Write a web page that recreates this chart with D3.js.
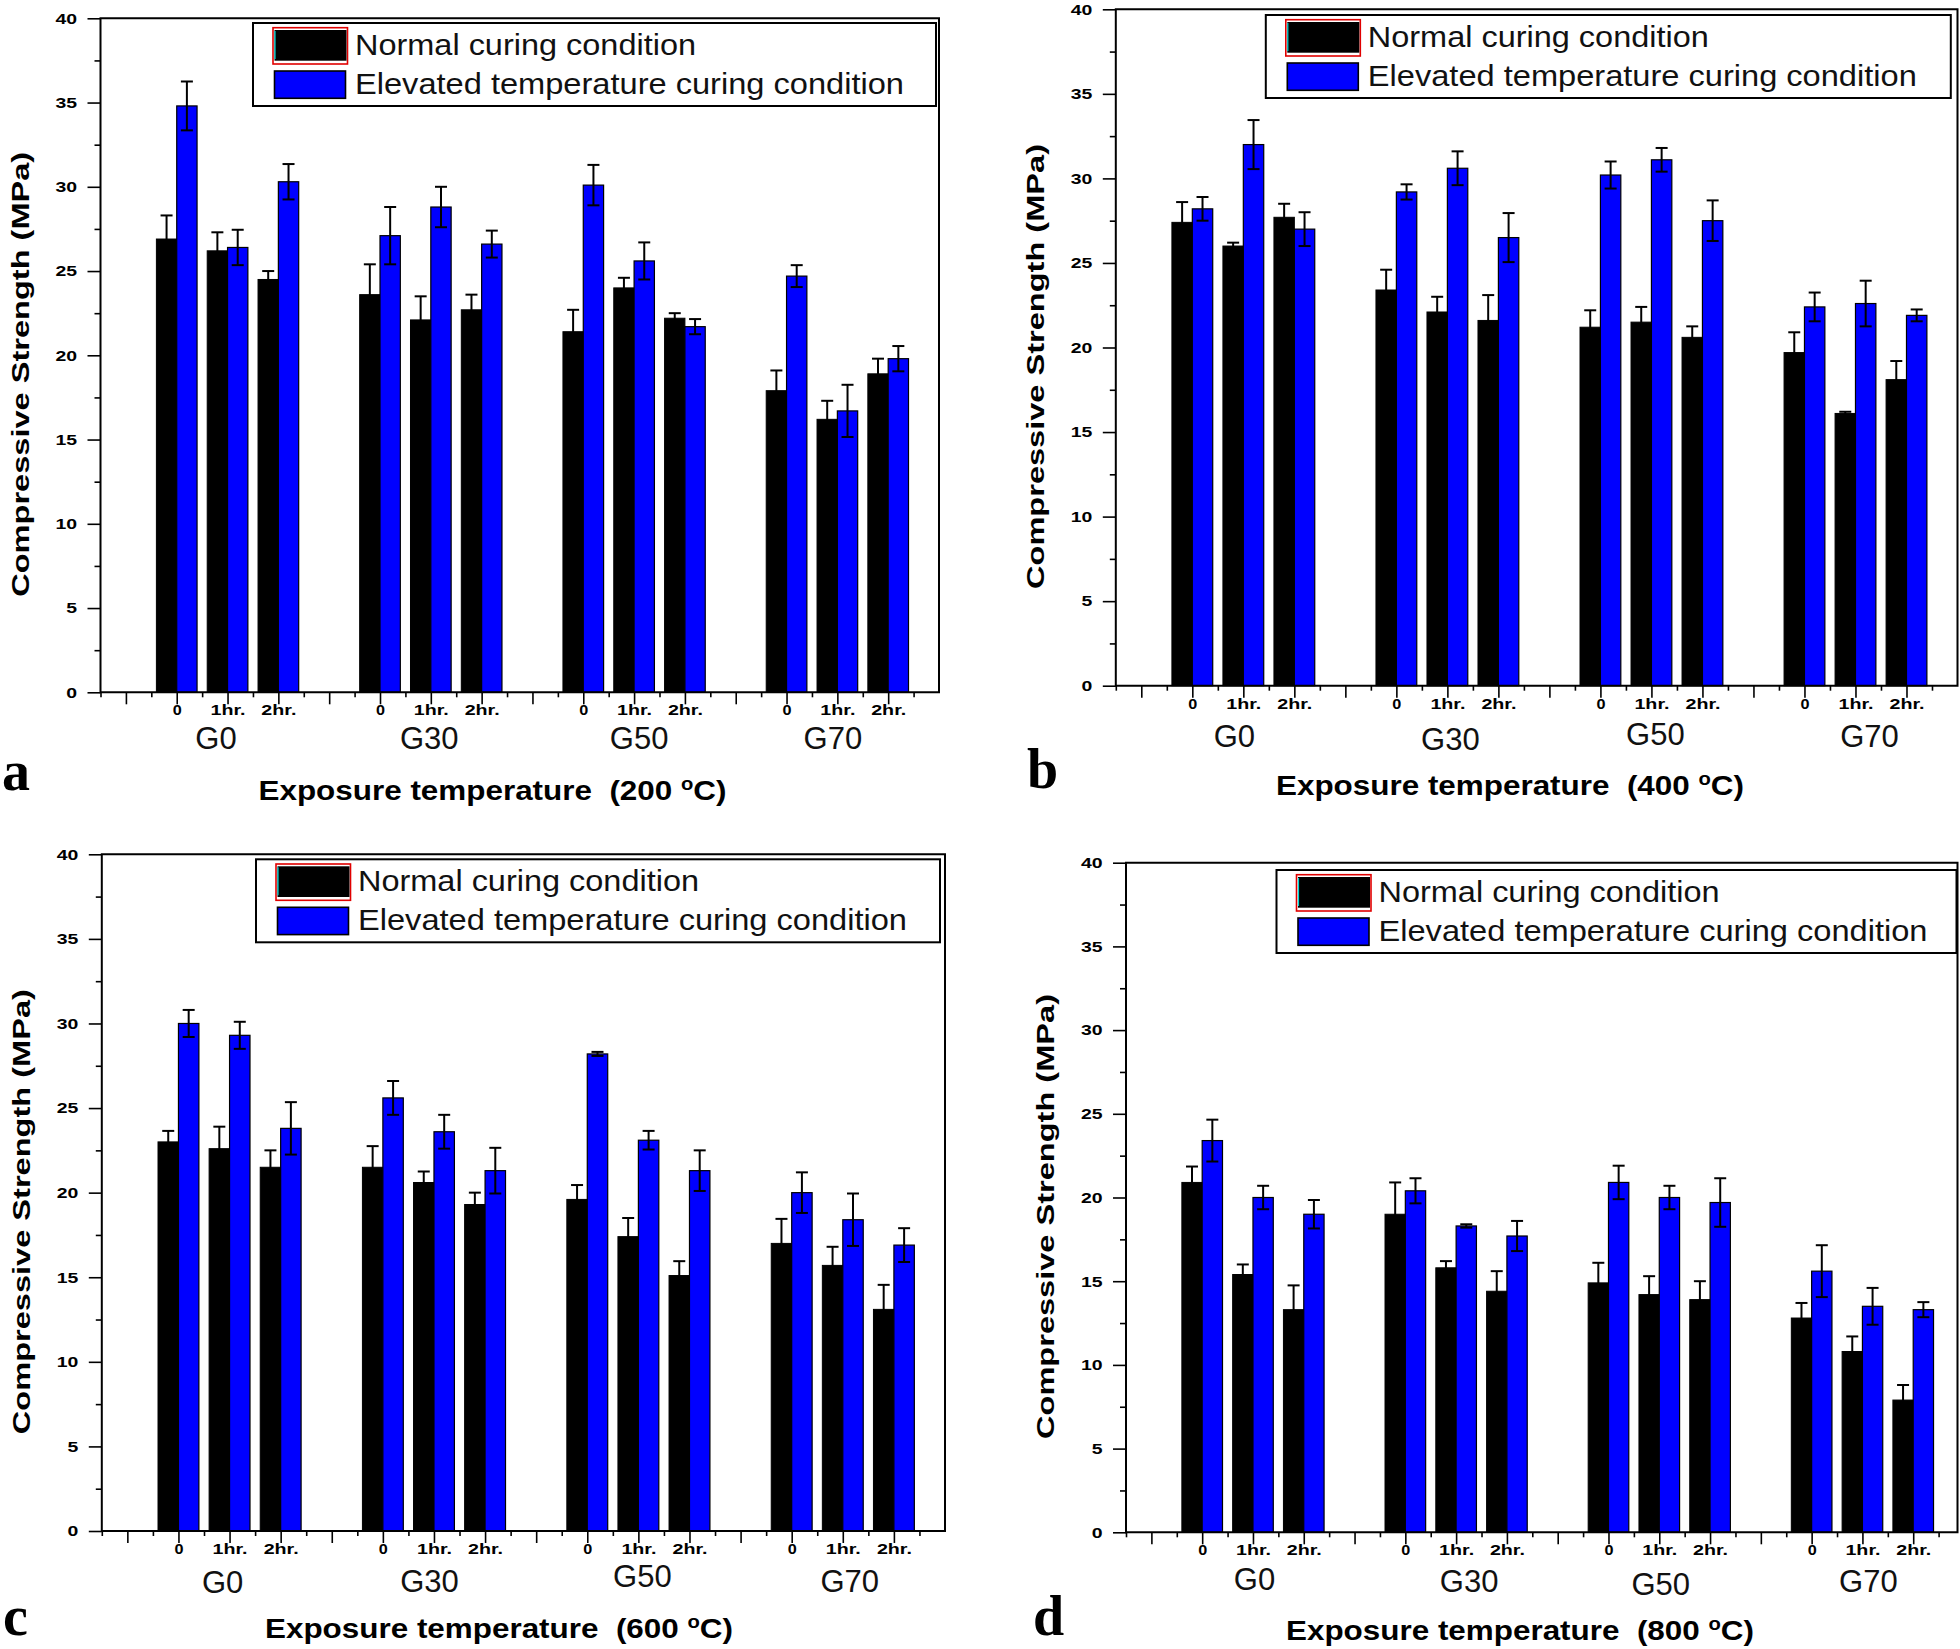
<!DOCTYPE html>
<html><head><meta charset="utf-8">
<script src="https://cdn.jsdelivr.net/npm/d3@7"></script>
<style>
body{margin:0;background:#fff}
svg{display:block}
</style>
</head><body>
<svg id="chart" width="1960" height="1649" font-family="Liberation Sans, Arial, sans-serif"></svg>
<script>
// ---------------- DATA ----------------
const groups = ["G0", "G30", "G50", "G70"];
const durations = ["0", "1hr.", "2hr."];
const seriesNames = ["Normal curing condition", "Elevated temperature curing condition"];
const temperatures = ["200", "400", "600", "800"];
const panelLetters = ["a", "b", "c", "d"];
const yTicks = [0, 5, 10, 15, 20, 25, 30, 35, 40];
const yMinorTicks = [2.5, 7.5, 12.5, 17.5, 22.5, 27.5, 32.5, 37.5];

// order: G0(0,1hr,2hr), G30(...), G50(...), G70(...)
const normal200      = [26.9, 26.2, 24.5, 23.6, 22.1, 22.7, 21.4, 24.0, 22.2, 17.9, 16.2, 18.9];
const normal200Err   = [1.4, 1.1, 0.5, 1.8, 1.4, 0.9, 1.3, 0.6, 0.3, 1.2, 1.1, 0.9];
const elevated200    = [34.8, 26.4, 30.3, 27.1, 28.8, 26.6, 30.1, 25.6, 21.7, 24.7, 16.7, 19.8];
const elevated200Err = [1.45, 1.05, 1.05, 1.7, 1.2, 0.8, 1.2, 1.1, 0.45, 0.65, 1.55, 0.75];

const normal400      = [27.4, 26.0, 27.7, 23.4, 22.1, 21.6, 21.2, 21.5, 20.6, 19.7, 16.1, 18.1];
const normal400Err   = [1.2, 0.2, 0.8, 1.2, 0.9, 1.5, 1.0, 0.9, 0.65, 1.2, 0.1, 1.1];
const elevated400    = [28.2, 32.0, 27.0, 29.2, 30.6, 26.5, 30.2, 31.1, 27.5, 22.4, 22.6, 21.9];
const elevated400Err = [0.7, 1.45, 1.0, 0.45, 1.0, 1.45, 0.8, 0.7, 1.2, 0.85, 1.35, 0.35];

const normal600      = [23.0, 22.6, 21.5, 21.5, 20.6, 19.3, 19.6, 17.4, 15.1, 17.0, 15.7, 13.1];
const normal600Err   = [0.65, 1.3, 1.0, 1.25, 0.65, 0.7, 0.85, 1.1, 0.85, 1.45, 1.1, 1.45];
const elevated600    = [30.0, 29.3, 23.8, 25.6, 23.6, 21.3, 28.2, 23.1, 21.3, 20.0, 18.4, 16.9];
const elevated600Err = [0.8, 0.8, 1.55, 1.0, 1.0, 1.35, 0.12, 0.55, 1.2, 1.2, 1.55, 1.0];

const normal800      = [20.9, 15.4, 13.3, 19.0, 15.8, 14.4, 14.9, 14.2, 13.9, 12.8, 10.8, 7.9];
const normal800Err   = [0.95, 0.6, 1.45, 1.9, 0.4, 1.2, 1.2, 1.1, 1.1, 0.9, 0.9, 0.9];
const elevated800    = [23.4, 20.0, 19.0, 20.4, 18.3, 17.7, 20.9, 20.0, 19.7, 15.6, 13.5, 13.3];
const elevated800Err = [1.25, 0.7, 0.85, 0.75, 0.1, 0.9, 1.0, 0.7, 1.45, 1.55, 1.1, 0.45];

const panelData = [
  {normal: normal200, normalErr: normal200Err, elevated: elevated200, elevatedErr: elevated200Err},
  {normal: normal400, normalErr: normal400Err, elevated: elevated400, elevatedErr: elevated400Err},
  {normal: normal600, normalErr: normal600Err, elevated: elevated600, elevatedErr: elevated600Err},
  {normal: normal800, normalErr: normal800Err, elevated: elevated800, elevatedErr: elevated800Err}
];

// ---------------- LAYOUT ----------------
const layouts = [
  {left:100.5, right:939, frameRight:939, top:18.3, bottom:692.3, legend:[253,23], legendW:683,
   groupDx:[-11.5,-1.5,5,-4.5], groupBase:[749,749,749,749], xTitle:[492.5,800], letter:[2,790]},
  {left:1115.8, right:1957.5, frameRight:1957.5, top:9.3, bottom:685.7, legend:[1265.8,15], legendW:685,
   groupDx:[-9,3,4,14], groupBase:[747,750,745,747], xTitle:[1510,795], letter:[1027,788]},
  {left:101.8, right:945, frameRight:945, top:854.3, bottom:1531, legend:[256,859.3], legendW:684,
   groupDx:[-7,-4.5,4,7], groupBase:[1593,1592,1587,1592], xTitle:[499,1638], letter:[3,1635]},
  {left:1126, right:1964, frameRight:1957.5, top:862.7, bottom:1532.3, legend:[1276.5,870], legendW:680,
   groupDx:[1.5,13,1.5,6], groupBase:[1590,1592,1595,1592], xTitle:[1520,1640], letter:[1033,1635]}
];

const BLUE = "#0000ff";
const SANS = "Liberation Sans, Arial, sans-serif";
const svg = d3.select("#chart");

panelData.forEach((pd, pi) => {
  const L = layouts[pi];
  const g = svg.append("g");
  // positions: slot index p = 2 + 4*group + duration; axis spans p 0.5..17
  const x = d3.scaleLinear().domain([0.5, 17]).range([L.left, L.right]);
  const y = d3.scaleLinear().domain([0, 40]).range([L.bottom, L.top]);
  const slot = x(2) - x(1);
  const bw = slot * 0.4;

  const rows = [];
  groups.forEach((gr, gi) => durations.forEach((du, di) => {
    const k = gi * 3 + di;
    rows.push({p: 2 + 4 * gi + di, label: du, gi,
      n: pd.normal[k], ne: pd.normalErr[k], e: pd.elevated[k], ee: pd.elevatedErr[k]});
  }));

  // bars
  g.selectAll(".bn").data(rows).join("rect")
    .attr("x", d => x(d.p) - bw).attr("width", bw)
    .attr("y", d => y(d.n)).attr("height", d => y(0) - y(d.n))
    .attr("fill", "#000").attr("stroke", "#000").attr("stroke-width", 1);
  g.selectAll(".be").data(rows).join("rect")
    .attr("x", d => x(d.p)).attr("width", bw)
    .attr("y", d => y(d.e)).attr("height", d => y(0) - y(d.e))
    .attr("fill", BLUE).attr("stroke", "#000").attr("stroke-width", 1.2);

  // error bars
  const cap = 6;
  const err = [];
  rows.forEach(d => {
    err.push({cx: x(d.p) - bw / 2, v: d.n, e: d.ne});
    err.push({cx: x(d.p) + bw / 2, v: d.e, e: d.ee});
  });
  const eg = g.append("g").attr("stroke", "#000").attr("stroke-width", 2);
  eg.selectAll(".ev").data(err).join("line")
    .attr("x1", d => d.cx).attr("x2", d => d.cx)
    .attr("y1", d => y(d.v - d.e)).attr("y2", d => y(d.v + d.e));
  eg.selectAll(".et").data(err).join("line")
    .attr("x1", d => d.cx - cap).attr("x2", d => d.cx + cap)
    .attr("y1", d => y(d.v + d.e)).attr("y2", d => y(d.v + d.e));
  eg.selectAll(".eb").data(err).join("line")
    .attr("x1", d => d.cx - cap).attr("x2", d => d.cx + cap)
    .attr("y1", d => y(d.v - d.e)).attr("y2", d => y(d.v - d.e));

  // y axis
  const ya = g.append("g").attr("transform", `translate(${L.left},0)`)
    .call(d3.axisLeft(y).tickValues(yTicks).tickSize(13).tickPadding(10.5).tickFormat(d3.format("d")));
  ya.attr("font-family", SANS);
  ya.select(".domain").remove();
  ya.selectAll("line").attr("stroke-width", 1.6);
  ya.selectAll("text").attr("font-size", 15).attr("font-weight", "bold").attr("fill", "#000")
    .attr("textLength", d => String(d).length * 10.8).attr("lengthAdjust", "spacingAndGlyphs");
  const ym = g.append("g").attr("transform", `translate(${L.left},0)`)
    .call(d3.axisLeft(y).tickValues(yMinorTicks).tickSize(6).tickFormat(""));
  ym.select(".domain").remove();
  ym.selectAll("line").attr("stroke-width", 1.6);

  // x axis
  const majorP = d3.range(1, 17);
  const minorP = d3.range(0.5, 17, 1);
  const labelAt = new Map(rows.map(d => [d.p, d.label]));
  const xa = g.append("g").attr("transform", `translate(0,${L.bottom})`)
    .call(d3.axisBottom(x).tickValues(majorP).tickSize(12).tickFormat(p => labelAt.get(p) || ""));
  xa.attr("font-family", SANS);
  xa.select(".domain").remove();
  xa.selectAll("line").attr("stroke-width", 1.6);
  xa.selectAll("text").attr("y", 23).attr("dy", null)
    .attr("font-size", 15).attr("font-weight", "bold").attr("fill", "#000")
    .filter(function(){ return this.textContent !== ""; })
    .attr("textLength", function(){ return this.textContent === "0" ? 9 : 35; })
    .attr("lengthAdjust", "spacingAndGlyphs");
  const xm = g.append("g").attr("transform", `translate(0,${L.bottom})`)
    .call(d3.axisBottom(x).tickValues(minorP).tickSize(5).tickFormat(""));
  xm.select(".domain").remove();
  xm.selectAll("line").attr("stroke-width", 1.6);

  // frame
  g.append("path")
    .attr("d", `M${L.left},${L.bottom}V${L.top}H${L.frameRight}V${L.bottom}Z`)
    .attr("fill", "none").attr("stroke", "#000").attr("stroke-width", 2);

  // group labels
  g.selectAll(".gl").data(groups).join("text")
    .attr("x", (d, i) => x(3 + 4 * i) + L.groupDx[i])
    .attr("y", (d, i) => L.groupBase[i])
    .attr("text-anchor", "middle").attr("font-size", 31).attr("fill", "#111")
    .text(d => d);

  // axis titles
  g.append("text")
    .attr("transform", `translate(${L.left - 72},${(L.top + L.bottom) / 2 + 19}) rotate(-90)`)
    .attr("text-anchor", "middle").attr("font-size", 23).attr("font-weight", "bold")
    .attr("textLength", 445).attr("lengthAdjust", "spacingAndGlyphs")
    .text("Compressive Strength (MPa)");
  const xt = g.append("text")
    .attr("x", L.xTitle[0]).attr("y", L.xTitle[1])
    .attr("text-anchor", "middle").attr("font-size", 28).attr("font-weight", "bold")
    .attr("textLength", 468).attr("lengthAdjust", "spacingAndGlyphs")
    .style("white-space", "pre");
  xt.append("tspan").text(`Exposure temperature  (${temperatures[pi]} `);
  xt.append("tspan").attr("font-size", 18).attr("dy", -10).text("o");
  xt.append("tspan").attr("dy", 10).text("C)");

  // panel letter
  g.append("text").attr("x", L.letter[0]).attr("y", L.letter[1])
    .attr("font-family", "Liberation Serif, Times New Roman, serif")
    .attr("font-weight", "bold").attr("font-size", 56).text(panelLetters[pi]);

  // legend
  const lg = g.append("g").attr("transform", `translate(${L.legend[0]},${L.legend[1]})`);
  lg.append("rect").attr("width", L.legendW).attr("height", 83)
    .attr("fill", "#fff").attr("stroke", "#000").attr("stroke-width", 2);
  lg.append("rect").attr("x", 20).attr("y", 4.7).attr("width", 74.5).attr("height", 36.3)
    .attr("fill", "#fff").attr("stroke", "#e00000").attr("stroke-width", 1.6);
  lg.append("rect").attr("x", 21.5).attr("y", 7).attr("width", 72).attr("height", 30.7)
    .attr("fill", "#000");
  lg.append("line").attr("x1", 22).attr("x2", 22).attr("y1", 8).attr("y2", 36)
    .attr("stroke", "#00d8d8").attr("stroke-width", 1.2);
  lg.append("rect").attr("x", 21.5).attr("y", 48).attr("width", 71).attr("height", 27.3)
    .attr("fill", BLUE).attr("stroke", "#000").attr("stroke-width", 1.6);
  lg.append("text").attr("x", 102).attr("y", 32).attr("font-size", 30).attr("fill", "#111")
    .attr("textLength", 341).attr("lengthAdjust", "spacingAndGlyphs").text(seriesNames[0]);
  lg.append("text").attr("x", 102).attr("y", 71).attr("font-size", 30).attr("fill", "#111")
    .attr("textLength", 549).attr("lengthAdjust", "spacingAndGlyphs").text(seriesNames[1]);
});
</script>
</body></html>
